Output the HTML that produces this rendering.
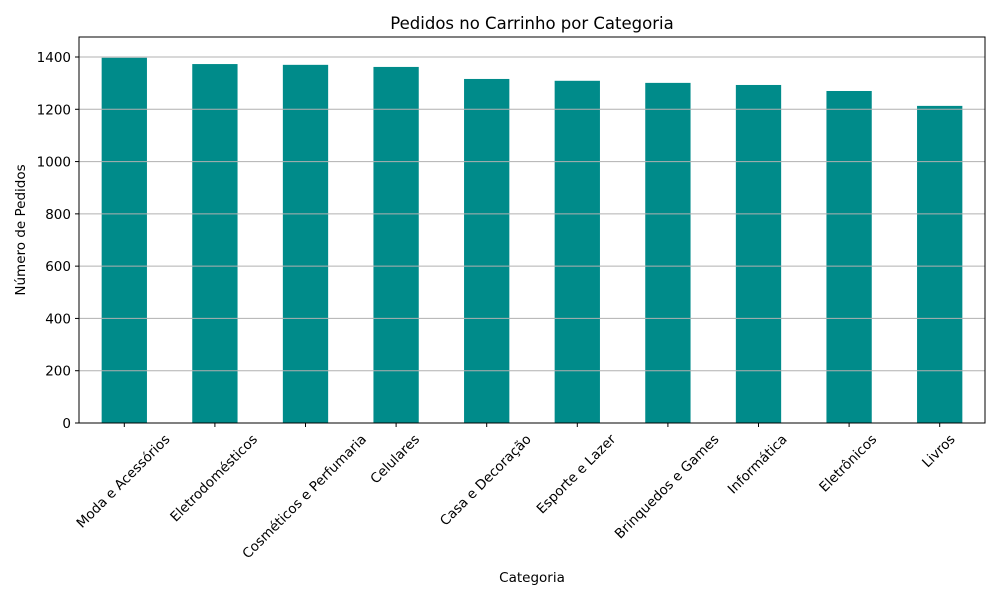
<!DOCTYPE html>
<html><head><meta charset="utf-8"><style>
body{margin:0;background:#fff;}
svg{display:block;font-family:"DejaVu Sans","Liberation Sans",sans-serif;}
</style></head><body>
<svg id="chart" width="1000" height="600">
<text x="532" y="29" text-anchor="middle" font-size="16.5">Pedidos no Carrinho por Categoria</text>
<text x="532" y="582" text-anchor="middle" font-size="13.5">Categoria</text>
<text transform="translate(25,230) rotate(-90)" text-anchor="middle" font-size="13.5">Número de Pedidos</text>
</svg>
<script>
const categories=["Moda e Acessórios","Eletrodomésticos","Cosméticos e Perfumaria","Celulares","Casa e Decoração","Esporte e Lazer","Brinquedos e Games","Informática","Eletrônicos","Livros"];
const values=[1397,1373,1370,1362,1316,1309,1301,1293,1270,1213];
const yTicks=[0,200,400,600,800,1000,1200,1400];
const NS="http://www.w3.org/2000/svg";
const svg=document.getElementById('chart');
const L=79,R=985,T=37,B=423,yMax=1400,yPx=366;
const y=v=>B-v*yPx/yMax;
const band=(R-L)/categories.length;
const x=i=>L+band*(i+0.5);
function mk(tag,attrs,parent){const e=document.createElementNS(NS,tag);for(const k in attrs)e.setAttribute(k,attrs[k]);(parent||svg).appendChild(e);return e;}
categories.forEach((c,i)=>{
 const r=mk('rect',{x:x(i)-band*0.25,y:y(values[i]),width:band*0.5,height:B-y(values[i]),fill:'#008b8a'});
 
 
});
yTicks.forEach(t=>{
 const g=mk('line',{x1:L,x2:R,y1:y(t),y2:y(t),stroke:'#b0b0b0','stroke-width':1});
 
 
 mk('line',{x1:L-4,x2:L,y1:y(t),y2:y(t),stroke:'#000'});
 const tx=mk('text',{x:L-8,y:y(t)+5,'text-anchor':'end','font-size':13.5});
 tx.textContent=t;
 
 
});
const fr=mk('rect',{x:L,y:T,width:R-L,height:B-T,fill:'none',stroke:'#000','stroke-width':1});


categories.forEach((c,i)=>{
 mk('line',{x1:x(i),x2:x(i),y1:B,y2:B+4,stroke:'#000'});
 const t=mk('text',{'text-anchor':'end','font-size':13.5});
 t.textContent=c;
 
 
 const len=t.getComputedTextLength();
 const ax=x(i)+len*0.707/2+2, ay=440;
 t.setAttribute('x',ax);t.setAttribute('y',ay);
 t.setAttribute('transform','rotate(-45 '+ax+' '+ay+')');
});
</script>
</body></html>
